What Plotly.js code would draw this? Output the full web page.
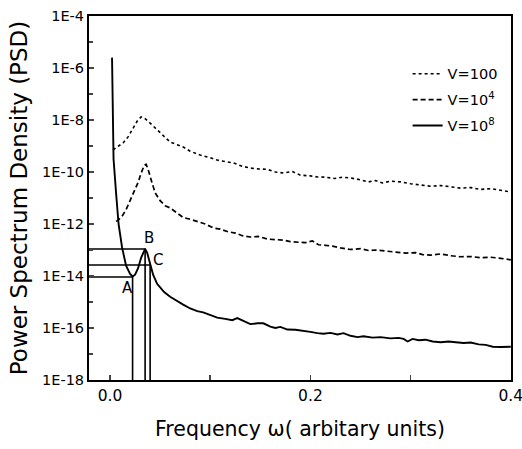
<!DOCTYPE html>
<html>
<head>
<meta charset="utf-8">
<script src="https://cdn.plot.ly/plotly-3.0.1.min.js"></script>
<style>html,body{margin:0;padding:0;background:#fff;}#chart{width:522px;height:449px;}</style>
</head>
<body>
<div id="chart"></div>
<script>
// ---- data (frequency, log10 of PSD) ----
const freqV100 = [0.003,0.008,0.013,0.018,0.023,0.027,0.031,0.035,0.040,0.045,0.050,0.055,0.060,0.067,0.073,0.080,0.090,0.100,0.107,0.115,0.123,0.132,0.140,0.148,0.157,0.165,0.173,0.182,0.190,0.200,0.207,0.215,0.224,0.232,0.240,0.250,0.258,0.265,0.272,0.280,0.290,0.300,0.310,0.320,0.330,0.340,0.350,0.360,0.370,0.380,0.390,0.400];
const logPsdV100 = [-9.15,-9.0,-8.88,-8.65,-8.3,-8.05,-7.88,-7.95,-8.12,-8.3,-8.5,-8.68,-8.85,-8.95,-9.04,-9.2,-9.35,-9.45,-9.54,-9.6,-9.65,-9.78,-9.85,-9.88,-9.9,-10.0,-10.04,-9.98,-10.12,-10.15,-10.19,-10.2,-10.25,-10.2,-10.23,-10.3,-10.38,-10.33,-10.42,-10.35,-10.38,-10.45,-10.5,-10.55,-10.52,-10.58,-10.62,-10.6,-10.67,-10.64,-10.7,-10.77];

const freqV1e4 = [0.006,0.008,0.012,0.016,0.020,0.024,0.028,0.031,0.034,0.036,0.038,0.041,0.045,0.050,0.055,0.060,0.066,0.073,0.080,0.087,0.095,0.103,0.110,0.118,0.125,0.132,0.140,0.148,0.157,0.165,0.173,0.180,0.188,0.195,0.202,0.208,0.215,0.222,0.230,0.240,0.250,0.258,0.265,0.275,0.285,0.295,0.305,0.312,0.320,0.330,0.340,0.350,0.360,0.370,0.380,0.390,0.400];
const logPsdV1e4 = [-11.9,-11.85,-11.7,-11.45,-11.1,-10.75,-10.4,-10.05,-9.75,-9.7,-9.9,-10.3,-10.8,-11.1,-11.3,-11.38,-11.55,-11.75,-11.82,-11.9,-12.0,-12.15,-12.2,-12.3,-12.35,-12.45,-12.5,-12.48,-12.58,-12.6,-12.62,-12.68,-12.7,-12.72,-12.65,-12.8,-12.82,-12.85,-12.92,-12.98,-12.95,-13.02,-13.0,-13.05,-13.08,-13.12,-13.1,-13.18,-13.2,-13.15,-13.22,-13.26,-13.25,-13.3,-13.28,-13.32,-13.38];

const freqV1e8 = [0.002,0.0035,0.006,0.0085,0.012,0.016,0.020,0.0225,0.025,0.028,0.031,0.033,0.035,0.037,0.040,0.043,0.047,0.050,0.054,0.060,0.067,0.073,0.080,0.087,0.093,0.100,0.107,0.115,0.122,0.127,0.133,0.140,0.147,0.153,0.160,0.165,0.170,0.177,0.185,0.193,0.200,0.207,0.213,0.220,0.227,0.233,0.240,0.247,0.253,0.262,0.270,0.280,0.288,0.293,0.297,0.302,0.308,0.315,0.322,0.330,0.338,0.345,0.353,0.360,0.368,0.375,0.382,0.390,0.400];
const logPsdV1e8 = [-5.6,-9.5,-10.8,-12.0,-12.9,-13.6,-13.92,-14.02,-13.95,-13.7,-13.3,-13.1,-12.96,-13.1,-13.58,-13.95,-14.3,-14.45,-14.62,-14.8,-14.98,-15.1,-15.25,-15.35,-15.4,-15.5,-15.6,-15.65,-15.7,-15.62,-15.72,-15.85,-15.82,-15.82,-15.95,-16.0,-15.96,-16.06,-16.07,-16.1,-16.15,-16.2,-16.22,-16.19,-16.25,-16.2,-16.3,-16.35,-16.32,-16.37,-16.35,-16.4,-16.38,-16.42,-16.52,-16.42,-16.47,-16.45,-16.52,-16.55,-16.52,-16.55,-16.58,-16.56,-16.63,-16.65,-16.72,-16.73,-16.72];

// marked points A, B, C on the V=10^8 curve
const markLabels = ['A','B','C'];
const markFreq = [0.0225,0.035,0.040];
const markLogPsd = [-14.04,-12.96,-13.58];
const markLabelFreq = [0.017,0.039,0.048];
const markLabelLogPsd = [-14.46,-12.54,-13.38];

const seriesNames = ['V=100','V=10<sup>4</sup>','V=10<sup>8</sup>'];
const xTickVals = [0,0.2,0.4];
const xTickText = ['0.0','0.2','0.4'];
const xMinorVals = [0.1,0.3];
const yTickExps = [-4,-6,-8,-10,-12,-14,-16,-18];
const yTickText = ['1E-4','1E-6','1E-8','1E-10','1E-12','1E-14','1E-16','1E-18'];
const yMinorExps = [-5,-7,-9,-11,-13,-15,-17];
const xRange = [-0.021,0.4002];
const yExpRange = [-18.001,-3.999];

const pw = v => Math.pow(10, v);
const FONT = 'DejaVu Sans, Liberation Sans, Arial, sans-serif';

const traces = [
  {x: freqV100, y: logPsdV100.map(pw), name: seriesNames[0], mode:'lines', legendgroup:'a',
   line:{color:'#000', width:1.6, dash:'dot'}},
  {x: freqV1e4, y: logPsdV1e4.map(pw), name: seriesNames[1], mode:'lines', legendgroup:'b',
   line:{color:'#000', width:1.7, dash:'5px,3px'}},
  {x: freqV1e8, y: logPsdV1e8.map(pw), name: seriesNames[2], mode:'lines', legendgroup:'c',
   line:{color:'#000', width:1.9}}
];

// guide lines from each marked point to the left axis and to the bottom axis
markFreq.forEach((f, i) => {
  const yv = pw(markLogPsd[i]);
  traces.push({x:[xRange[0], f, f], y:[yv, yv, pw(yExpRange[0])], mode:'lines', showlegend:false,
    hoverinfo:'skip', line:{color:'#000', width:1.6}});
});

const annotations = markLabels.map((t, i) => ({
  x: markLabelFreq[i], y: markLabelLogPsd[i], xref:'x', yref:'y', text:t, showarrow:false,
  font:{family:FONT, size:15, color:'#000'}
}));

const layout = {
  width:522, height:449,
  margin:{l:89, r:11, t:16, b:69},
  paper_bgcolor:'#fff', plot_bgcolor:'#fff',
  font:{family:FONT, color:'#000'},
  showlegend:true,
  legend:{x:0.755, y:0.885, xanchor:'left', yanchor:'top', bgcolor:'rgba(0,0,0,0)',
    font:{family:FONT, size:14.5, color:'#000'}, tracegroupgap:4, traceorder:'grouped'},
  xaxis:{range:xRange, tickvals:xTickVals, ticktext:xTickText, ticks:'inside', ticklen:5, tickwidth:1.5,
    ticklabeloverflow:'allow',
    minor:{tickvals:xMinorVals, ticks:'inside', ticklen:5, tickwidth:1.5, showgrid:false},
    showline:true, linewidth:2, linecolor:'#000', mirror:true, showgrid:false, zeroline:false,
    tickfont:{family:FONT, size:15.5}, title:{text:'Frequency \u03c9( arbitary units)', font:{family:FONT, size:20.5}, standoff:18}},
  yaxis:{type:'log', range:yExpRange, tickvals:yTickExps.map(pw), ticktext:yTickText, ticks:'inside', ticklen:5, tickwidth:1.5,
    minor:{tickvals:yMinorExps.map(pw), ticks:'inside', ticklen:4, tickwidth:1.5, showgrid:false},
    showline:true, linewidth:2, linecolor:'#000', mirror:true, showgrid:false, zeroline:false,
    tickfont:{family:FONT, size:14.5}, title:{text:'Power Spectrum Density (PSD)', font:{family:FONT, size:23}, standoff:8}},
  annotations: annotations
};

Plotly.newPlot('chart', traces, layout, {staticPlot:true, displayModeBar:false});
</script>
</body>
</html>
